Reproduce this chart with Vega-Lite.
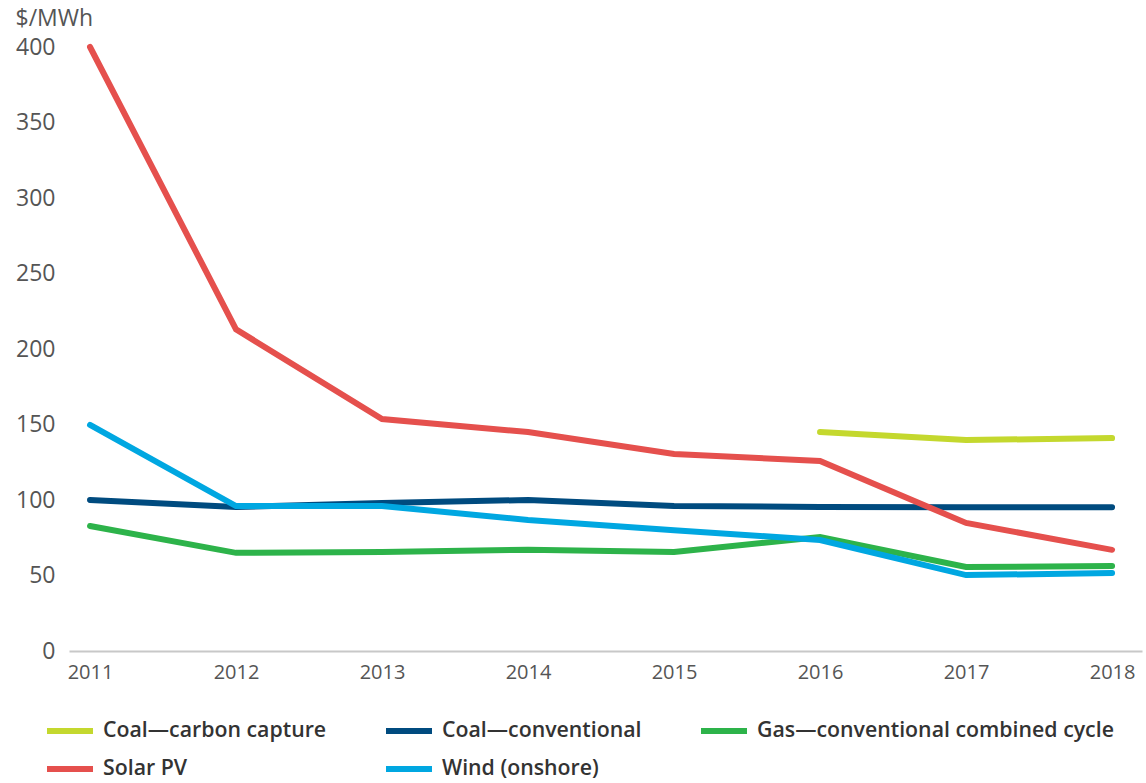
{
  "$schema": "https://vega.github.io/schema/vega-lite/v6.json",
  "autosize": {"type": "none"},
  "width": 1073,
  "height": 604,
  "padding": {"left": 69, "top": 47, "right": 4, "bottom": 132},
  "background": "white",
  "config": {
    "font": "Open Sans",
    "view": {"stroke": null}
  },
  "data": {
    "values": [
      {"Year": 2016, "Tech": "Coal—carbon capture", "Cost": 145},
      {"Year": 2017, "Tech": "Coal—carbon capture", "Cost": 139.7},
      {"Year": 2018, "Tech": "Coal—carbon capture", "Cost": 141},
      {"Year": 2011, "Tech": "Coal—conventional", "Cost": 100},
      {"Year": 2012, "Tech": "Coal—conventional", "Cost": 95.4},
      {"Year": 2013, "Tech": "Coal—conventional", "Cost": 98},
      {"Year": 2014, "Tech": "Coal—conventional", "Cost": 100},
      {"Year": 2015, "Tech": "Coal—conventional", "Cost": 96},
      {"Year": 2016, "Tech": "Coal—conventional", "Cost": 95.4},
      {"Year": 2017, "Tech": "Coal—conventional", "Cost": 95.2},
      {"Year": 2018, "Tech": "Coal—conventional", "Cost": 95.2},
      {"Year": 2011, "Tech": "Gas—conventional combined cycle", "Cost": 82.8},
      {"Year": 2012, "Tech": "Gas—conventional combined cycle", "Cost": 65},
      {"Year": 2013, "Tech": "Gas—conventional combined cycle", "Cost": 65.6},
      {"Year": 2014, "Tech": "Gas—conventional combined cycle", "Cost": 67},
      {"Year": 2015, "Tech": "Gas—conventional combined cycle", "Cost": 65.6},
      {"Year": 2016, "Tech": "Gas—conventional combined cycle", "Cost": 75.5},
      {"Year": 2017, "Tech": "Gas—conventional combined cycle", "Cost": 55.6},
      {"Year": 2018, "Tech": "Gas—conventional combined cycle", "Cost": 56.3},
      {"Year": 2011, "Tech": "Solar PV", "Cost": 400},
      {"Year": 2012, "Tech": "Solar PV", "Cost": 213},
      {"Year": 2013, "Tech": "Solar PV", "Cost": 153.6},
      {"Year": 2014, "Tech": "Solar PV", "Cost": 145},
      {"Year": 2015, "Tech": "Solar PV", "Cost": 130.5},
      {"Year": 2016, "Tech": "Solar PV", "Cost": 125.8},
      {"Year": 2017, "Tech": "Solar PV", "Cost": 84.8},
      {"Year": 2018, "Tech": "Solar PV", "Cost": 67},
      {"Year": 2011, "Tech": "Wind (onshore)", "Cost": 149.7},
      {"Year": 2012, "Tech": "Wind (onshore)", "Cost": 96},
      {"Year": 2013, "Tech": "Wind (onshore)", "Cost": 96},
      {"Year": 2014, "Tech": "Wind (onshore)", "Cost": 86.8},
      {"Year": 2015, "Tech": "Wind (onshore)", "Cost": 80},
      {"Year": 2016, "Tech": "Wind (onshore)", "Cost": 73.5},
      {"Year": 2017, "Tech": "Wind (onshore)", "Cost": 50.3},
      {"Year": 2018, "Tech": "Wind (onshore)", "Cost": 51.6}
    ]
  },
  "mark": {"type": "line", "strokeWidth": 6, "strokeCap": "round", "strokeJoin": "miter"},
  "encoding": {
    "x": {
      "field": "Year",
      "type": "quantitative",
      "scale": {"domain": [2010.856, 2018.205], "nice": false, "zero": false},
      "axis": {
        "values": [2011, 2012, 2013, 2014, 2015, 2016, 2017, 2018],
        "format": "d",
        "title": null,
        "grid": false,
        "ticks": false,
        "domain": true,
        "domainColor": "#c8c8c8",
        "domainWidth": 2,
        "labelFontSize": 20,
        "labelColor": "#555555",
        "labelPadding": 11,
        "labelFlush": false
      }
    },
    "y": {
      "field": "Cost",
      "type": "quantitative",
      "scale": {"domain": [0, 400], "nice": false},
      "axis": {
        "values": [0, 50, 100, 150, 200, 250, 300, 350, 400],
        "title": "$/MWh",
        "titleAngle": 0,
        "titleAlign": "left",
        "titleBaseline": "alphabetic",
        "titleX": -54,
        "titleY": -22,
        "titleFontSize": 23,
        "titleFontWeight": "normal",
        "titleColor": "#555555",
        "grid": false,
        "ticks": false,
        "domain": false,
        "labelFontSize": 23,
        "labelColor": "#555555",
        "labelPadding": 14
      }
    },
    "color": {
      "field": "Tech",
      "type": "nominal",
      "scale": {
        "domain": ["Coal—carbon capture", "Coal—conventional", "Gas—conventional combined cycle", "Solar PV", "Wind (onshore)"],
        "range": ["#c4d82e", "#004b7f", "#2db34a", "#e5504d", "#00a7e1"]
      },
      "legend": {
        "title": null,
        "orient": "none",
        "direction": "horizontal",
        "legendX": -25,
        "legendY": 658,
        "columns": 3,
        "columnPadding": 47,
        "rowPadding": -9,
        "symbolType": "stroke",
        "symbolSize": 2116,
        "symbolStrokeWidth": 6,
        "labelFontSize": 21.3,
        "labelFontWeight": 600,
        "labelColor": "#333333",
        "labelOffset": 7,
        "labelLimit": 500
      }
    }
  }
}
